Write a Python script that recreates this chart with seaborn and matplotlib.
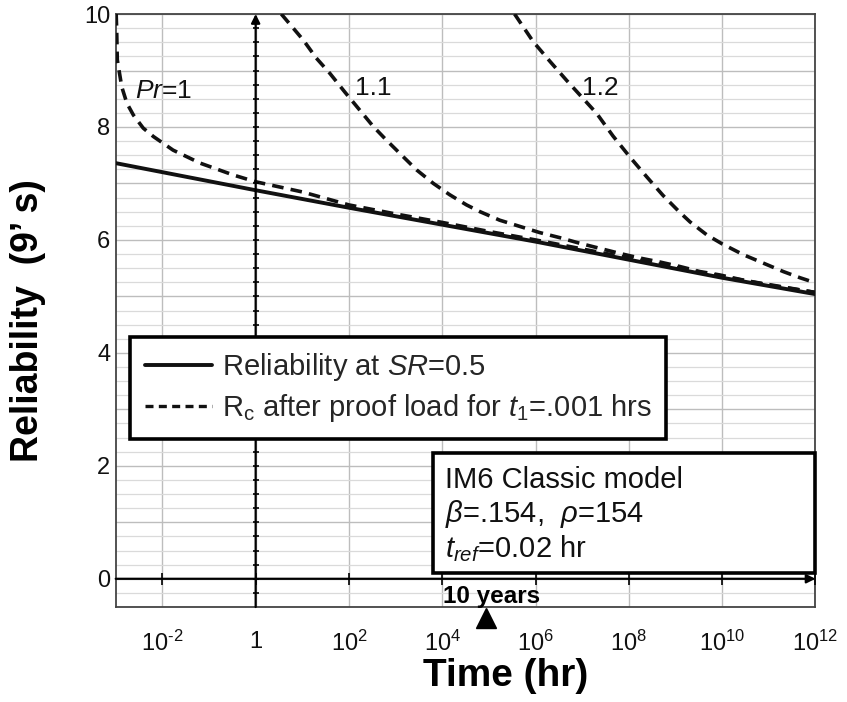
import numpy as np
import pandas as pd
import matplotlib
matplotlib.use("Agg")
import matplotlib.pyplot as plt
import seaborn as sns
from matplotlib.lines import Line2D
from matplotlib.patches import Rectangle
from matplotlib.ticker import NullLocator

# ---------------- data ----------------
# time given as log10(hours)
logt_solid = [-3.0, -2.0, 0.0, 2.0, 4.0, 6.0, 8.0, 10.0, 12.0]
rel_solid = [7.36, 7.20, 6.88, 6.57, 6.27, 5.97, 5.65, 5.33, 5.04]

logt_pr10 = [-2.99, -2.98, -2.966, -2.87, -2.76, -2.62, -2.41, -2.19, -1.77, -1.19,
             -0.48, 0.0, 1.0, 2.0, 3.0, 4.0, 5.0, 6.0, 8.0, 10.0, 12.0]
rel_pr10 = [10.0, 9.75, 9.19, 8.71, 8.42, 8.21, 7.98, 7.83, 7.59, 7.36,
            7.15, 7.03, 6.85, 6.62, 6.46, 6.31, 6.15, 6.00, 5.68, 5.35, 5.07]

logt_pr11 = [0.55, 1.02, 1.30, 1.59, 1.91, 2.23, 2.52, 2.80, 3.13, 3.45, 3.81, 4.16,
             4.52, 4.81, 5.23, 5.66, 6.09, 6.52, 6.95, 7.38, 7.81, 8.23, 8.66,
             9.09, 9.52, 9.95, 10.5, 11.0, 12.0]
rel_pr11 = [10.0, 9.54, 9.22, 8.95, 8.62, 8.30, 8.01, 7.77, 7.50, 7.24, 7.00, 6.80,
            6.62, 6.50, 6.35, 6.24, 6.13, 6.04, 5.94, 5.85, 5.76, 5.68, 5.61,
            5.53, 5.44, 5.38, 5.28, 5.20, 5.07]

logt_pr12 = [5.55, 5.95, 6.31, 6.66, 7.31, 7.66, 8.02, 8.38, 8.73, 9.09, 9.31, 9.67,
             10.0, 10.45, 10.88, 11.31, 11.67, 12.0]
rel_pr12 = [10.0, 9.51, 9.16, 8.83, 8.24, 7.84, 7.47, 7.12, 6.79, 6.49, 6.32, 6.09,
            5.93, 5.74, 5.59, 5.44, 5.33, 5.24]

xtick_vals = [1e-2, 1, 1e2, 1e4, 1e6, 1e8, 1e10, 1e12]
xtick_labels = [r"$10^{\text{-}2}$", "1", r"$10^{2}$", r"$10^{4}$", r"$10^{6}$",
                r"$10^{8}$", r"$10^{10}$", r"$10^{12}$"]
ytick_vals = list(range(0, 11))
ytick_labels = ["0", "", "2", "", "4", "", "6", "", "8", "", "10"]

ten_years_hr = 87600

legend_labels = [r"Reliability at $SR$=0.5",
                 r"R$_\mathrm{c}$ after proof load for $t_{\mathit{1}}$=.001 hrs"]
box_lines = ["IM6 Classic model", r"$\beta$=.154,  $\rho$=154", r"$t_{ref}$=0.02 hr"]

# ---------------- style ----------------
sns.set_style("white")
plt.rcParams["font.family"] = ["Liberation Sans", "DejaVu Sans"]
plt.rcParams["mathtext.fontset"] = "custom"
plt.rcParams["mathtext.rm"] = "Liberation Sans"
plt.rcParams["mathtext.it"] = "Liberation Sans:italic"
plt.rcParams["mathtext.bf"] = "Liberation Sans:bold"

fig = plt.figure(figsize=(8.47, 7.02), dpi=100)
ax = fig.add_axes([0.1366, 0.1353, 0.8262, 0.8447])

ink = "#111111"
dash = (0, (3.2, 2.0))

def frame(logt, rel):
    return pd.DataFrame({"t": 10.0 ** np.asarray(logt), "R": rel})

sns.lineplot(data=frame(logt_solid, rel_solid), x="t", y="R", ax=ax, color=ink,
             lw=2.8, estimator=None, sort=False, zorder=3)
for lt, rv in [(logt_pr10, rel_pr10), (logt_pr11, rel_pr11), (logt_pr12, rel_pr12)]:
    sns.lineplot(data=frame(lt, rv), x="t", y="R", ax=ax, color=ink, lw=2.6,
                 linestyle=dash, estimator=None, sort=False, zorder=3)

ax.set_xscale("log")
ax.set_xlim(1e-3, 1e12)
ax.set_ylim(-0.5, 10)
ax.set_xticks(xtick_vals)
ax.set_xticklabels(xtick_labels)
ax.xaxis.set_minor_locator(NullLocator())
ax.set_yticks(ytick_vals)
ax.set_yticklabels(ytick_labels)
ax.set_yticks(np.arange(-0.5, 10.01, 0.25), minor=True)
ax.tick_params(axis="both", which="both", length=0, labelsize=17, colors="#111111")
ax.tick_params(axis="x", pad=17)
ax.tick_params(axis="y", pad=4)
ax.set_xlabel("")
ax.set_ylabel("")

ax.grid(True, which="major", axis="both", color="#bdbdbd", lw=1.0, zorder=0)
ax.grid(True, which="minor", axis="y", color="#dadada", lw=0.9, zorder=0)
ax.set_axisbelow(True)
for s in ax.spines.values():
    s.set_color("#444444")
    s.set_linewidth(1.3)

# axis arrows through x=1 and y=0
ax.annotate("", xy=(1, 10), xytext=(1, -0.5),
            arrowprops=dict(arrowstyle="-|>", color="black", lw=1.6,
                            mutation_scale=13, shrinkA=0, shrinkB=0),
            annotation_clip=False, zorder=4)
ax.annotate("", xy=(1e12, 0), xytext=(1e-3, 0),
            arrowprops=dict(arrowstyle="-|>", color="black", lw=1.6,
                            mutation_scale=13, shrinkA=0, shrinkB=0),
            annotation_clip=False, zorder=4)
yq = np.arange(-0.25, 10, 0.25)
ax.plot(np.ones_like(yq), yq, ls="none", marker="_", ms=5, mew=1.2, color="black", zorder=4)
ax.plot(xtick_vals, np.zeros(len(xtick_vals)), ls="none", marker="|", ms=9, mew=1.2,
        color="black", zorder=4)

# curve annotations
ax.text(2.6e-3, 8.51, r"$Pr$=1", fontsize=19, va="baseline", ha="left", color=ink)
ax.text(134, 8.57, "1.1", fontsize=19, va="baseline", ha="left", color=ink)
ax.text(9.66e6, 8.57, "1.2", fontsize=19, va="baseline", ha="left", color=ink)

# 10 years marker
ax.text(1.03e4, -0.43, "10 years", fontsize=17.5, fontweight="bold", va="baseline",
        ha="left", color="black", zorder=6)
ax.plot([ten_years_hr], [-0.69], marker="^", ms=15, color="black", ls="none",
        clip_on=False, zorder=6)

# legend
handles = [Line2D([], [], color=ink, lw=2.8),
           Line2D([], [], color=ink, lw=2.4, linestyle=(0, (2.4, 1.6)))]
leg = ax.legend(handles, legend_labels, loc="upper left", bbox_to_anchor=(0.0204, 0.4558),
                bbox_transform=ax.transAxes, borderaxespad=0, frameon=True, fancybox=False,
                edgecolor="black", framealpha=1, fontsize=21, handlelength=2.3,
                handletextpad=0.35, borderpad=0.5, labelspacing=0.3)
leg.get_frame().set_linewidth(2.6)
leg.set_zorder(10)

# model box
ax.add_patch(Rectangle((0.4533, 0.0573), 0.5467, 0.2029, transform=ax.transAxes,
                       facecolor="white", edgecolor="black", lw=2.6, zorder=8, clip_on=False))
for yb, s in zip([0.2007, 0.1433, 0.0843], box_lines):
    ax.text(0.4704, yb, s, transform=ax.transAxes, fontsize=21, va="baseline",
            ha="left", color=ink, zorder=9)

# axis titles
fig.text(0.033, 0.5434, "Reliability  (9\u2019 s)", rotation=90, fontsize=27,
         fontweight="bold", ha="center", va="center", color="black")
fig.text(0.597, 0.037, "Time (hr)", fontsize=28, fontweight="bold",
         ha="center", va="center", color="black")

fig.savefig("out.png", dpi=100)
